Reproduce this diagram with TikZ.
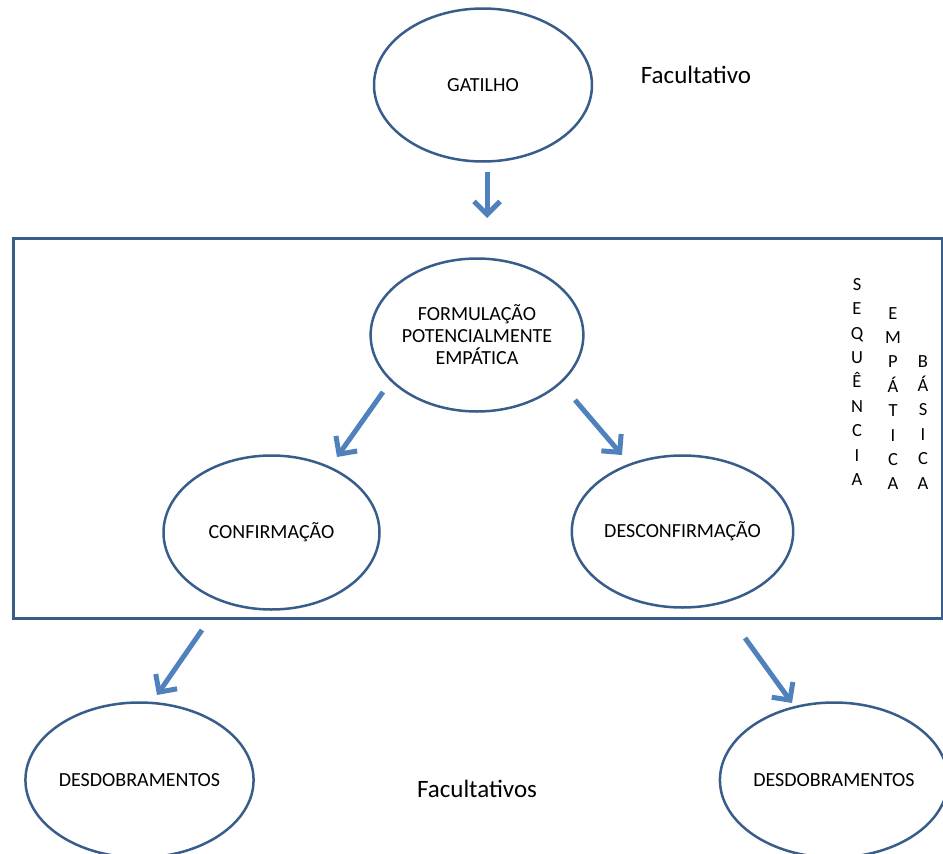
\documentclass[tikz,border=0pt]{standalone}
\usepackage{fontspec}
\setmainfont{Carlito}
\usetikzlibrary{arrows.meta,shapes.geometric}
\definecolor{edgeblue}{RGB}{56,93,138}
\definecolor{arrblue}{RGB}{79,129,189}
\begin{document}
\begin{tikzpicture}[x=1pt,y=-1pt,
  oval/.style={draw=edgeblue,line width=2.5pt,ellipse,inner sep=0pt,
    minimum width=216pt,minimum height=154pt,align=center,
    font=\fontsize{20}{22}\selectfont},
  frame/.style={draw=edgeblue,line width=3pt,rectangle,inner sep=0pt},
  vert/.style={font=\fontsize{18.5}{24.4}\selectfont,align=center,inner sep=0pt,anchor=north},
  note/.style={font=\fontsize{25}{30}\selectfont,anchor=base,inner sep=0pt},
  flow/.style={draw=arrblue,line width=5pt,-{Straight Barb[length=13pt,width=26pt]}}]
\useasboundingbox (0,0) rectangle (943,854);

\node[frame,minimum width=929pt,minimum height=380pt,anchor=north west] (box) at (12,237) {};

\node[oval,minimum width=218pt,minimum height=153pt] (gat) at (483,85) {GATILHO};
\node[oval,minimum width=208pt,minimum height=153pt] (form) at (477,335)
  {FORMULAÇÃO\\POTENCIALMENTE\\EMPÁTICA};
\node[oval] (conf) at (271.5,532.5) {CONFIRMAÇÃO};
\node[oval,minimum height=152pt] (desc) at (682.5,531.5) {DESCONFIRMAÇÃO};
\node[oval,minimum height=155pt] (desd1) at (139.5,780) {DESDOBRAMENTOS};
\node[oval,minimum height=155pt,minimum width=215pt] (desd2) at (834,780) {DESDOBRAMENTOS};

\node[note] (fac1) at (696,83) {Facultativo};
\node[note] (fac2) at (477,797) {Facultativos};

\node[vert] (seq) at (857,278) {S\\E\\Q\\U\\Ê\\N\\C\\I\\A};
\node[vert] (emp) at (893,307) {E\\M\\P\\Á\\T\\I\\C\\A};
\node[vert] (bas) at (923,355) {B\\Á\\S\\I\\C\\A};

\coordinate (a1s) at (487,172); \coordinate (a1e) at (487,218);
\coordinate (a2s) at (383,392); \coordinate (a2e) at (337,457);
\coordinate (a3s) at (575,400); \coordinate (a3e) at (622,455);
\coordinate (a4s) at (202,630); \coordinate (a4e) at (157,695);
\coordinate (a5s) at (745,638); \coordinate (a5e) at (792,703);

\draw[flow] (a1s) -- (a1e);
\draw[flow] (a2s) -- (a2e);
\draw[flow] (a3s) -- (a3e);
\draw[flow] (a4s) -- (a4e);
\draw[flow] (a5s) -- (a5e);
\end{tikzpicture}
\end{document}
